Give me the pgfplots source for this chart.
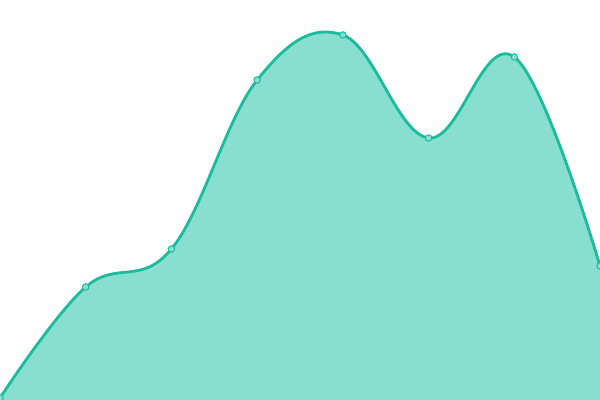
\documentclass[border=0pt]{standalone}
\usepackage{pgfplots}
\pgfplotsset{compat=1.18}
\definecolor{linec}{HTML}{1ABC9C}
\definecolor{areac}{HTML}{88DFCF}
\begin{document}
\begin{tikzpicture}
\begin{axis}[
    scale only axis,
    width=15cm, height=10cm,
    axis lines=none,
    xmin=0, xmax=7,
    ymin=0, ymax=400,
    ]
    \addplot[smooth, tension=0.65, draw=none, fill=areac] coordinates {(0,2) (1,113) (2,151) (3,320) (4,365) (5,262) (6,343) (7,134)} \closedcycle;
    \addplot[smooth, tension=0.65, color=linec, line width=2pt, mark=*,
        mark size=2.3pt, mark options={fill=areac, draw=linec, line width=0.7pt}]
        coordinates {(0,2) (1,113) (2,151) (3,320) (4,365) (5,262) (6,343) (7,134)};
\end{axis}
\pgfresetboundingbox
\useasboundingbox (current axis.south west) rectangle (current axis.north east);
\end{tikzpicture}
\end{document}
